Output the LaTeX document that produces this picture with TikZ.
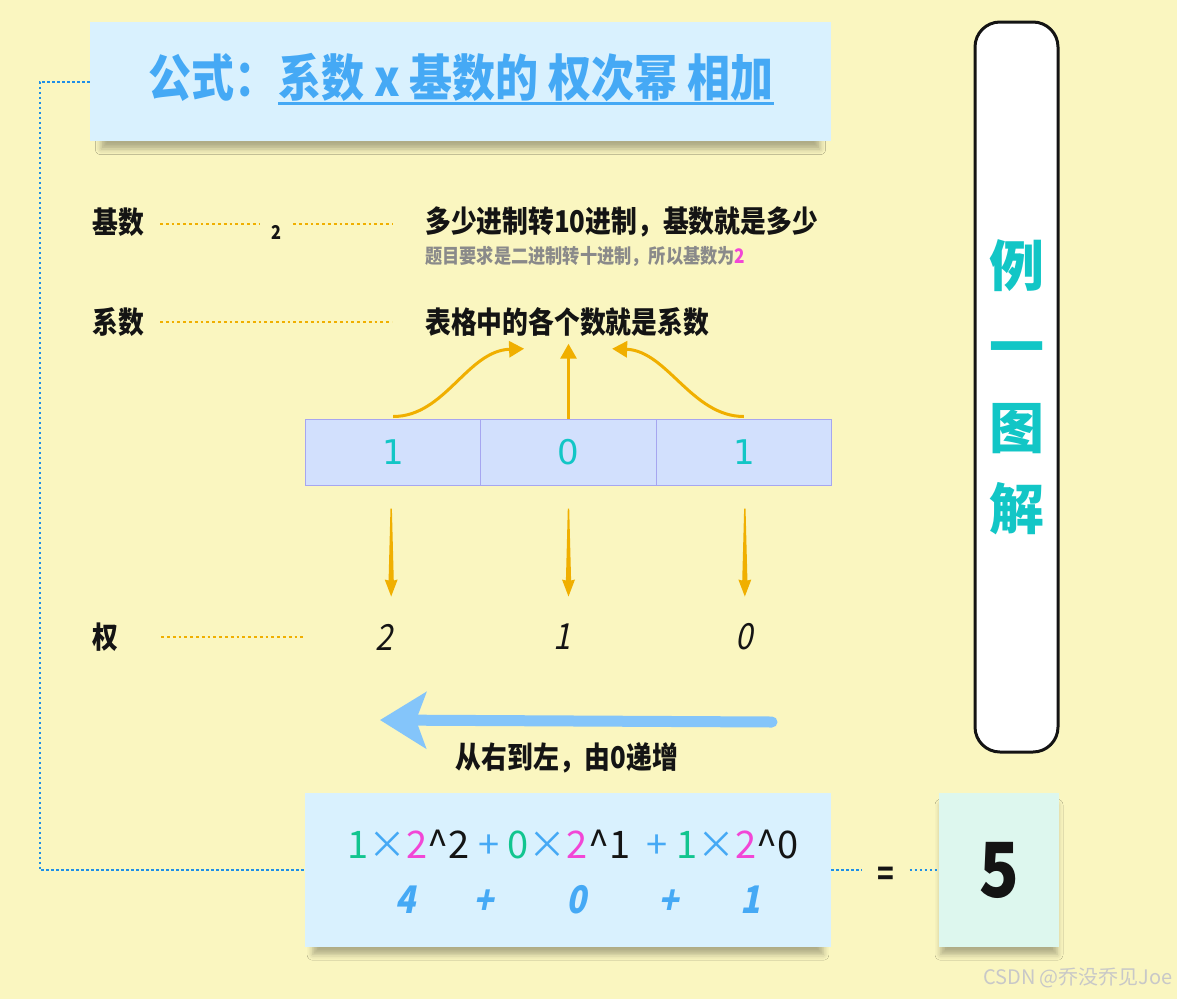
\documentclass[tikz,border=0pt]{standalone}
\usepackage{fontspec}
\setmainfont{Noto Sans CJK SC}
\newfontfamily\cjk{Noto Sans CJK SC}
\newfontfamily\cjkn[FakeStretch=0.86]{Noto Sans CJK SC}
\newfontfamily\cjki[FakeStretch=0.86,FakeSlant=0.2]{Noto Sans CJK SC}
\newfontfamily\dejavu{DejaVu Sans}
\usetikzlibrary{arrows.meta,shadows.blur,calc}
\definecolor{bg}{HTML}{FAF6C0}
\definecolor{boxblue}{HTML}{D9F1FE}
\definecolor{titleblue}{HTML}{45A9F5}
\definecolor{orng}{HTML}{F0AF00}
\definecolor{dotblue}{HTML}{1E8FE6}
\definecolor{cellfill}{HTML}{D2E0FD}
\definecolor{cellborder}{HTML}{A6A6F0}
\definecolor{cyan1}{HTML}{12C6C6}
\definecolor{cgreen}{HTML}{12C58F}
\definecolor{cmag}{HTML}{F246D6}
\definecolor{ink}{HTML}{141414}
\definecolor{subgray}{HTML}{8A8A8A}
\definecolor{arrblue}{HTML}{84C5FA}
\definecolor{resgreen}{HTML}{DDF7EE}
\definecolor{wmgray}{HTML}{C8C8C8}
\newcommand{\cG}[1]{\textcolor{cgreen}{#1}}
\newcommand{\cB}[1]{\textcolor{titleblue}{#1}}
\newcommand{\cM}[1]{\textcolor{cmag}{#1}}
\begin{document}
\begin{tikzpicture}[x=1pt,y=-1pt,
  txt/.style={inner sep=0pt, text=ink},
  lab/.style={txt, anchor=west, font=\cjkn\bfseries\fontsize{30}{34}\selectfont},
  odot/.style={draw=orng, line width=2.8pt, dash pattern=on 2.8pt off 3pt},
  bdot/.style={draw=dotblue, line width=2pt, dash pattern=on 2.5pt off 2.5pt},
  panel/.style={inner sep=0pt, blur shadow={shadow xshift=0pt, shadow yshift=-10pt, shadow scale=0.97, shadow blur radius=6pt, shadow opacity=30}},
  cell/.style={draw=cellborder, fill=cellfill, line width=1pt, minimum width=175.33pt, minimum height=66pt, inner sep=0pt, text=cyan1, font=\dejavu\fontsize{34}{38}\selectfont},
  oarr/.style={draw=orng, line width=3pt, -{Triangle[length=15pt,width=16pt]}},
  num/.style={txt, font=\cjki\fontsize{36}{40}\selectfont},
  bnum/.style={txt, text=titleblue, font=\cjki\bfseries\fontsize{38}{42}\selectfont},
]
\fill[bg] (0,0) rectangle (1177,999);
\useasboundingbox (0,0) rectangle (1177,999);

% title panel
\node[panel, fill=boxblue, minimum width=741pt, minimum height=119pt] (tb) at (460.5,81.5) {};
\node[txt, anchor=west, text=titleblue, font=\cjkn\bfseries\fontsize{50}{56}\selectfont] (t1) at (148,78) {公式：};
\node[txt, anchor=west, text=titleblue, font=\cjkn\bfseries\fontsize{50}{56}\selectfont] (t2) at (278,78) {系数 x 基数的 权次幂 相加};
\draw[titleblue, line width=2.2pt] ($(t2.south west)+(0,1)$) -- ($(t2.south east)+(0,1)$);

% right vertical box
\node[draw=ink, line width=3pt, fill=white, rounded corners=25pt, minimum width=83pt, minimum height=730pt, inner sep=0pt, align=center, text=cyan1, font=\cjk\bfseries\fontsize{55}{81}\selectfont] (rb) at (1016.5,387) {例\\一\\图\\解};

% labels
\node[lab] (js) at (92,222) {基数};
\node[txt, font=\cjkn\bfseries\fontsize{19}{22}\selectfont] (two) at (276,232) {2};
\node[lab] (jsd) at (425,222) {多少进制转10进制，基数就是多少};
\node[txt, anchor=west, text=subgray, font=\cjkn\bfseries\fontsize{20}{24}\selectfont] (sub) at (425,256) {题目要求是二进制转十进制，所以基数为\textcolor{cmag}{2}};
\node[lab] (xs) at (92,322) {系数};
\node[lab] (xsd) at (425,322) {表格中的各个数就是系数};
\node[lab] (q) at (92,637) {权};

\draw[odot] ($(js.east)+(16,2)$) -- ($(two.west |- js.east)+(-12,2)$);
\draw[odot] ($(two.east |- js.east)+(12,2)$) -- ($(jsd.west)+(-33,2)$);
\draw[odot] ($(xs.east)+(16,0)$) -- ($(xsd.west)+(-33,0)$);

% table
\node[cell] (c1) at (393.17,452) {1};
\node[cell] (c2) at (568.5,452) {0};
\node[cell] (c3) at (743.83,452) {1};

\draw[odot] ($(q.east)+(43,0)$) -- (c1.west |- q.east);

% curved arrows up
\draw[oarr] ($(c1.north)+(0,-2)$) .. controls ($(c1.north)+(52,-2)$) and ($(xsd.south)+(-100,14)$) .. ($(xsd.south)+(-43,12)$);
\draw[oarr] (c2.north) -- ($(c2.north |- xsd.south)+(0,7)$);
\draw[oarr] ($(c3.north)+(0,-2)$) .. controls ($(c3.north)+(-52,-2)$) and ($(xsd.south)+(100,14)$) .. ($(xsd.south)+(45,12)$);

% powers
\node[num] (p2) at (384,637) {2};
\node[num] (p1) at (562,637) {1};
\node[num] (p0) at (744,637) {0};
% tapered down arrows (cell -> power)
\foreach \c/\dx in {c1/-2, c2/0, c3/1}{
  \coordinate (s) at ($(\c.south)+(\dx,23)$);
  \fill[orng] ($(s)+(-0.7,0)$) -- ($(s)+(0.7,0)$) -- ($(s)+(2.6,72)$) -- ($(s)+(6.5,71)$)
     -- ($(s)+(0,88)$) -- ($(s)+(-6.5,71)$) -- ($(s)+(-2.6,72)$) -- cycle;
}

% big blue arrow
\coordinate (ba1) at (772,722);
\coordinate (ba2) at (380,720);
\draw[line width=11pt, draw=arrblue, fill=arrblue, line cap=round, -{Stealth[length=46pt,width=56pt,inset=10pt]}] (ba1) -- (ba2);
\node[lab, anchor=center] (dir) at (567,758) {从右到左，由0递增};

% formula panel
\node[panel, fill=boxblue, minimum width=526pt, minimum height=154pt] (fm) at (568,870) {};
\node[txt, font=\cjk\fontsize{38}{42}\selectfont] (l1) at (573,845) {\cG{1}\cB{×}\cM{2}\textasciicircum2 \cB{+} \cG{0}\cB{×}\cM{2}\textasciicircum1\hspace{8pt} \cB{+} \cG{1}\cB{×}\cM{2}\textasciicircum0};
\node[bnum] (a4) at (405,900) {4};
\node[bnum] (ap1) at (483,902) {+};
\node[bnum] (a0) at (576,900) {0};
\node[bnum] (ap2) at (668,902) {+};
\node[bnum] (a1) at (750,900) {1};

% result
\node[panel, fill=resgreen, minimum width=120pt, minimum height=154pt, text=ink, font=\cjkn\bfseries\fontsize{76}{80}\selectfont] (res) at (999,870) {5};
\node[txt, font=\cjkn\bfseries\fontsize{32}{36}\selectfont, inner xsep=15pt] (eq) at (886,876) {=};

% blue dotted connectors
\draw[bdot] (tb.west) -- ++(-50,0) |- (fm.west);
\draw[bdot] (fm.east) -- (eq.west |- fm.east);
\draw[bdot] (eq.east |- res.west) -- (res.west);

% watermark
\node[txt, anchor=east, text=wmgray, font=\fontsize{20}{24}\selectfont] (wm) at (1173,978) {CSDN @乔没乔见Joe};
\end{tikzpicture}
\end{document}
